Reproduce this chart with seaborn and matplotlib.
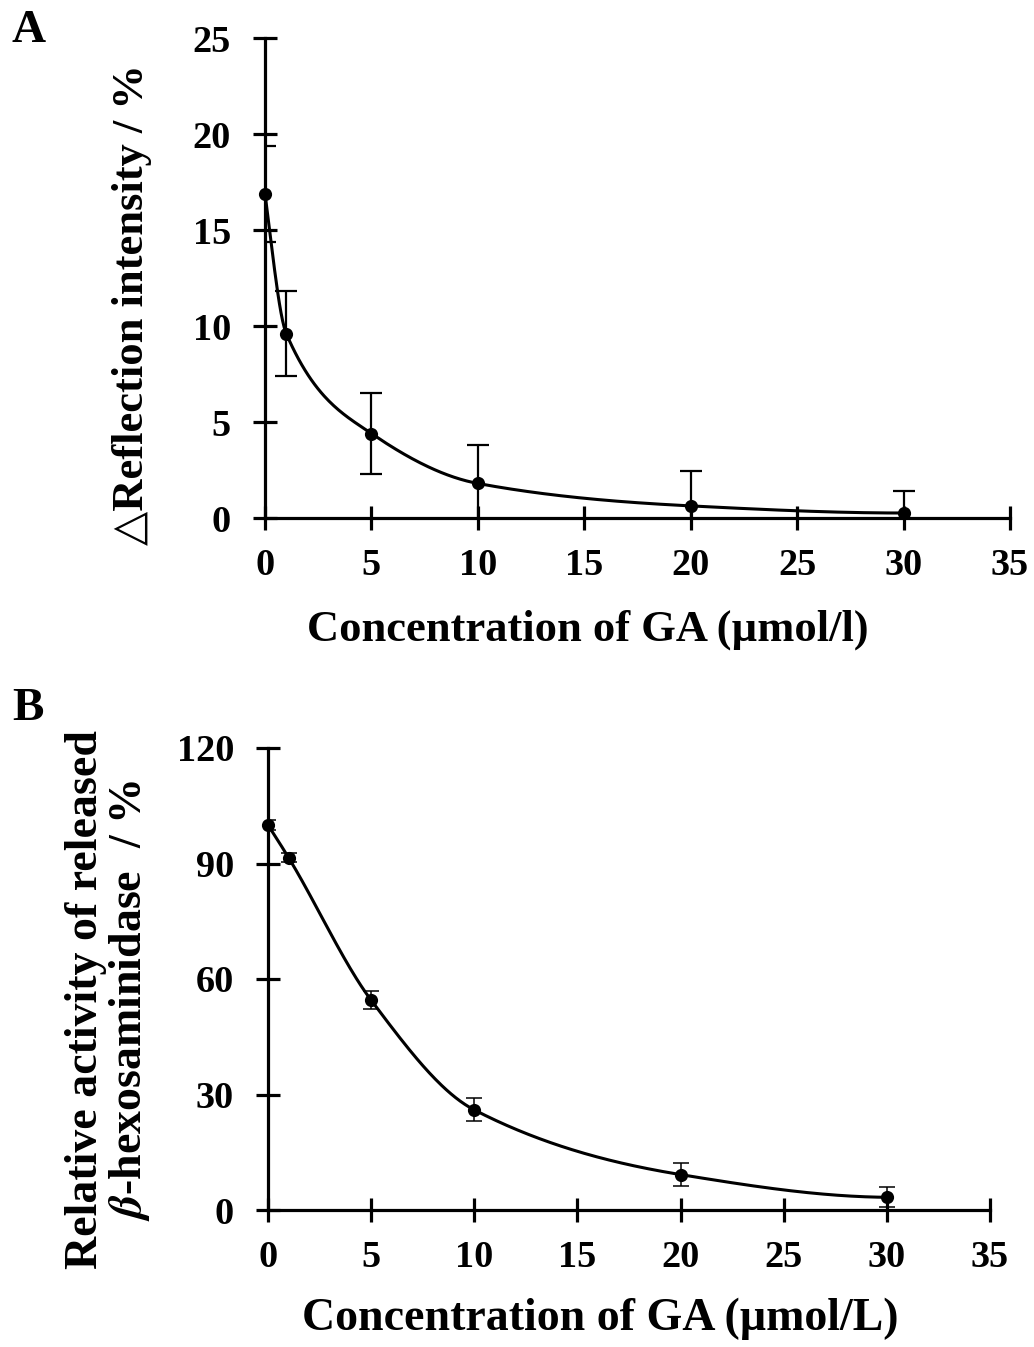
import numpy as np
import matplotlib
matplotlib.use("Agg")
import matplotlib.pyplot as plt
import seaborn as sns
import pandas as pd

# ---- data ----
conc = [0, 1, 5, 10, 20, 30]
refl_mean = [16.9, 9.6, 4.4, 1.8, 0.63, 0.26]
refl_err = [2.5, 2.2, 2.1, 2.0, 1.8, 1.15]
hex_mean = [100.0, 91.5, 54.5, 26.0, 9.2, 3.3]
hex_err = [1.2, 1.2, 2.3, 3.0, 3.0, 2.6]

xticks = [0, 5, 10, 15, 20, 25, 30, 35]
yticks_a = [0, 5, 10, 15, 20, 25]
yticks_b = [0, 30, 60, 90, 120]

sns.set_style("ticks")
plt.rcParams['font.family'] = ['Liberation Serif', 'DejaVu Serif']
plt.rcParams['font.weight'] = 'bold'
plt.rcParams['mathtext.fontset'] = 'stix'
for k in ['text.color', 'axes.labelcolor', 'xtick.color', 'ytick.color',
          'axes.edgecolor']:
    plt.rcParams[k] = 'black'


def pchip(x, y, xs):
    x = np.asarray(x, float)
    y = np.asarray(y, float)
    h = np.diff(x)
    d = np.diff(y) / h
    n = len(x)
    m = np.zeros(n)
    for k in range(1, n - 1):
        if d[k - 1] * d[k] <= 0:
            m[k] = 0
        else:
            w1 = 2 * h[k] + h[k - 1]
            w2 = h[k] + 2 * h[k - 1]
            m[k] = (w1 + w2) / (w1 / d[k - 1] + w2 / d[k])

    def endslope(h0, h1, d0, d1):
        s = ((2 * h0 + h1) * d0 - h0 * d1) / (h0 + h1)
        if np.sign(s) != np.sign(d0):
            s = 0
        elif np.sign(d0) != np.sign(d1) and abs(s) > abs(3 * d0):
            s = 3 * d0
        return s
    m[0] = endslope(h[0], h[1], d[0], d[1])
    m[-1] = endslope(h[-1], h[-2], d[-1], d[-2])
    out = np.empty_like(xs)
    for i, xv in enumerate(xs):
        k = min(np.searchsorted(x, xv, side='right') - 1, n - 2)
        k = max(k, 0)
        t = (xv - x[k]) / h[k]
        h00 = 2 * t**3 - 3 * t**2 + 1
        h10 = t**3 - 2 * t**2 + t
        h01 = -2 * t**3 + 3 * t**2
        h11 = t**3 - t**2
        out[i] = h00 * y[k] + h10 * h[k] * m[k] + h01 * y[k + 1] + h11 * h[k] * m[k + 1]
    return out


fig = plt.figure(figsize=(10.34, 13.47), dpi=100)
axA = fig.add_axes([265/1034, 1-518/1347, (1010-265)/1034, (518-38)/1347])
axB = fig.add_axes([268/1034, 1-1210/1347, (990-268)/1034, (1210-748)/1347])

dfA = pd.DataFrame({'x': conc, 'y': refl_mean})
dfB = pd.DataFrame({'x': conc, 'y': hex_mean})


def style(ax, yticks, ylim):
    ax.set_xlim(0, 35)
    ax.set_ylim(*ylim)
    ax.set_xticks(xticks)
    ax.set_yticks(yticks)
    for s in ['top', 'right']:
        ax.spines[s].set_visible(False)
    for s in ['left', 'bottom']:
        ax.spines[s].set_linewidth(2.3)
        ax.spines[s].set_color('black')
    ax.tick_params(direction='inout', length=17, width=2.3, labelsize=27.5,
                   color='black', labelcolor='black')
    ax.tick_params(axis='y', pad=16)
    ax.tick_params(axis='x', pad=13)
    for lab in ax.get_xticklabels() + ax.get_yticklabels():
        lab.set_fontweight('bold')
    ax.set_facecolor('white')


# Panel A
xs = np.linspace(0, 30, 400)
axA.plot(xs, pchip(conc, refl_mean, xs), color='black', lw=2.2, zorder=3)
axA.errorbar(conc, refl_mean, yerr=refl_err, fmt='none', ecolor='black',
             elinewidth=1.6, capsize=8, capthick=1.6, zorder=2)
sns.scatterplot(data=dfA, x='x', y='y', ax=axA, color='black', s=90,
                edgecolor='black', linewidth=0, zorder=4, legend=False,
                clip_on=False)
style(axA, yticks_a, (0, 25))
axA.set_xlabel('Concentration of GA (µmol/l)', fontsize=32, fontweight='bold')
axA.set_ylabel('△Reflection intensity / %', fontsize=32, fontweight='bold')
axA.xaxis.set_label_coords(0.4336, -0.19)
axA.yaxis.set_label_coords(-0.152, 0.444)

# Panel B
axB.plot(xs, pchip(conc, hex_mean, xs), color='black', lw=2.2, zorder=3)
axB.errorbar(conc, hex_mean, yerr=hex_err, fmt='none', ecolor='black',
             elinewidth=1.1, capsize=6, capthick=1.1, zorder=2)
sns.scatterplot(data=dfB, x='x', y='y', ax=axB, color='black', s=90,
                edgecolor='black', linewidth=0, zorder=4, legend=False,
                clip_on=False)
style(axB, yticks_b, (0, 120))
axB.set_xlabel('Concentration of GA (µmol/L)', fontsize=33, fontweight='bold')
axB.set_ylabel('Relative activity of released\n$\\beta$-hexosaminidase  / %',
               fontsize=33, fontweight='bold', linespacing=1.0)
axB.xaxis.set_label_coords(0.46, -0.19)
axB.yaxis.set_label_coords(-0.161, 0.4545)

fig.text(12/1034, 1-10/1347, 'A', fontsize=34, fontweight='bold', va='top', ha='left')
fig.text(12/1034, 1-688/1347, 'B', fontsize=34, fontweight='bold', va='top', ha='left')

fig.savefig('out.png', dpi=100, facecolor='white')
